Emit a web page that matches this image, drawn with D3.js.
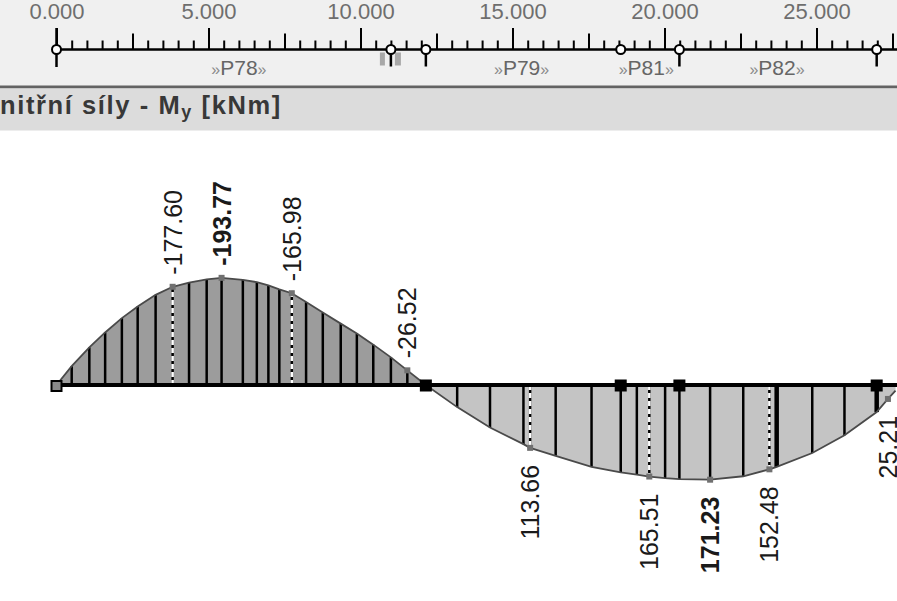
<!DOCTYPE html>
<html><head><meta charset="utf-8">
<script src="https://cdn.jsdelivr.net/npm/d3@7"></script>
<style>
html,body{margin:0;padding:0;background:#fff;overflow:hidden}
svg{display:block;font-family:"Liberation Sans",Arial,sans-serif}
</style></head><body>
<svg id="c" width="897" height="601"></svg>
<script>
// ---- data ----
const axisTicks = [0, 5, 10, 15, 20, 25];
const axisTickLabels = ["0.000", "5.000", "10.000", "15.000", "20.000", "25.000"];
const memberNames = ["P78", "P79", "P81", "P82"];
const memberLabelPos = [6.0, 15.3, 19.4, 23.7];
const axisNodes = [0, 11.0, 12.15, 18.56, 20.49, 26.98];
const diagramNodes = [12.15, 18.56, 20.49, 26.98];
const sectionPos = [0, 0.5, 1.08, 1.6, 2.15, 2.67, 3.26, 3.82, 4.36, 4.94, 5.43, 6.13, 6.59, 6.97, 7.33, 7.74, 8.21, 8.76, 9.35, 9.88, 10.42, 11.0, 11.54, 12.15,
  13.18, 14.26, 15.36, 15.58, 16.42, 17.6, 18.56, 19.09, 19.5, 20.02, 20.49, 21.5, 22.59, 23.45, 23.69, 24.86, 25.92, 26.98, 27.35, 27.6];
const momentMy = [0, -34, -68, -95, -121, -142, -163, -177.60, -185, -191, -193.77, -190, -186, -180, -173, -165.98, -150, -131, -111, -93, -73, -50, -26.52, 0,
  40, 77, 107, 113.66, 128, 148, 158, 162, 165.51, 168.5, 170.3, 171.23, 165, 152.48, 148, 123, 91, 49, 25.21, 10];
const labelPos = [3.82, 5.43, 7.74, 11.54, 15.58, 19.5, 21.5, 23.45, 27.35];
const labelText = ["-177.60", "-193.77", "-165.98", "-26.52", "113.66", "165.51", "171.23", "152.48", "25.21"];
const labelBold = [false, true, false, false, false, false, true, false, false];
const dashedPos = [3.82, 7.74, 15.58, 19.5, 23.45];
const thickPos = [23.69, 26.98];
const titleText = "Vnitřní síly - M";
const titleSub = "y";
const titleUnit = " [kNm]";

// ---- drawing ----
const W = 897, H = 601;
const svg = d3.select("#c");
const x = d3.scaleLinear().domain([0, 27.5]).range([56.5, 56.5 + 27.5 * 30.4]);
const k = 0.553;
const y = d3.scaleLinear().domain([-200, 200]).range([385 - 200 * k, 385 + 200 * k]);
const valAt = p => momentMy[sectionPos.indexOf(p)];

svg.append("rect").attr("width", W).attr("height", 86).attr("fill", "#f0f0f0");
svg.append("rect").attr("y", 85.5).attr("width", W).attr("height", 3).attr("fill", "#636363");
svg.append("rect").attr("y", 88.5).attr("width", W).attr("height", 42).attr("fill", "#dcdcdc");

// axis
const axisY = 49.5;
const gAx = svg.append("g").attr("transform", `translate(0,${axisY})`);
const all = d3.range(0, 27.51, 0.5);
const isMaj = v => Math.abs(v / 5 - Math.round(v / 5)) < 1e-6;
const isMed = v => !isMaj(v) && Math.abs(v / 2.5 - Math.round(v / 2.5)) < 1e-6;
function tickAxis(vals, size) {
  const g = gAx.append("g").call(d3.axisTop(x).tickValues(vals).tickSize(size).tickFormat(""));
  g.select(".domain").remove();
  g.selectAll("line").attr("stroke", "#000").attr("stroke-width", 2);
}
tickAxis(all.filter(v => !isMaj(v) && !isMed(v)), 9);
tickAxis(all.filter(isMed), 16);
tickAxis(all.filter(isMaj), 21.5);
const gl = gAx.append("g").call(d3.axisTop(x).tickValues(axisTicks).tickSize(0).tickPadding(31)
  .tickFormat((d, i) => axisTickLabels[i]));
gl.select(".domain").remove();
gl.selectAll("text").attr("font-size", 22).attr("fill", "#6e6e6e").attr("font-family", "'Liberation Sans',Arial,sans-serif");
gAx.append("line").attr("x1", x(0)).attr("x2", W).attr("y1", 0).attr("y2", 0).attr("stroke", "#000").attr("stroke-width", 2.5);

// node stems
gAx.append("line").attr("x1", x(0)).attr("x2", x(0)).attr("y1", -21.5).attr("y2", 17.5).attr("stroke", "#000").attr("stroke-width", 2.5);
[11.0, 12.15, 20.49, 26.98].forEach(p => {
  gAx.append("line").attr("x1", x(p)).attr("x2", x(p)).attr("y1", 0).attr("y2", 17).attr("stroke", "#000").attr("stroke-width", 2.5);
});
gAx.append("rect").attr("x", x(11.0) - 11).attr("y", 3).attr("width", 5).attr("height", 13).attr("fill", "#a8a8a8");
gAx.append("rect").attr("x", x(11.0) + 4).attr("y", 3).attr("width", 6).attr("height", 13).attr("fill", "#a8a8a8");
gAx.selectAll("circle.n").data(axisNodes).join("circle").attr("class", "n")
  .attr("cx", d => x(d)).attr("cy", 0).attr("r", 4.5).attr("fill", "#fff").attr("stroke", "#000").attr("stroke-width", 2);

// member labels
memberNames.forEach((n, i) => {
  const t = svg.append("text").attr("x", x(memberLabelPos[i])).attr("y", 75).attr("text-anchor", "middle")
    .attr("font-size", 21).attr("fill", "#666");
  t.append("tspan").attr("font-size", 16).attr("fill", "#8a8a8a").text("»");
  t.append("tspan").text(n);
  t.append("tspan").attr("font-size", 16).attr("fill", "#8a8a8a").text("»");
});

// title
const tt = svg.append("text").attr("x", -18.6).attr("y", 114).attr("font-size", 25.5).attr("font-weight", "bold")
  .attr("letter-spacing", 1.6).attr("fill", "#383838");
tt.append("tspan").text(titleText);
tt.append("tspan").attr("font-size", 18).attr("dy", 4).text(titleSub);
tt.append("tspan").attr("dy", -4).text(titleUnit);

// diagram
const pts = sectionPos.map((p, i) => ({p, v: momentMy[i]}));
const zi = sectionPos.indexOf(12.15);
const area = d3.area().x(d => x(d.p)).y0(y(0)).y1(d => y(d.v));
const line = d3.line().x(d => x(d.p)).y(d => y(d.v));
svg.append("path").attr("d", area(pts.slice(0, zi + 1))).attr("fill", "#9c9c9c");
svg.append("path").attr("d", area(pts.slice(zi))).attr("fill", "#c4c4c4");

// hatch lines
const hatch = pts.filter((d, i) => i > 0 && i !== zi && d.p < 27.3);
svg.selectAll("line.h").data(hatch).join("line").attr("class", "h")
  .attr("x1", d => x(d.p)).attr("x2", d => x(d.p)).attr("y1", y(0)).attr("y2", d => y(d.v))
  .attr("stroke", "#000").attr("stroke-width", d => thickPos.includes(d.p) ? 4.5 : 2.5);
svg.selectAll("line.dw").data(dashedPos).join("line").attr("class", "dw")
  .attr("x1", d => x(d)).attr("x2", d => x(d)).attr("y1", y(0)).attr("y2", d => y(valAt(d)))
  .attr("stroke", "#fff").attr("stroke-width", 2.5).attr("stroke-dasharray", "5,3");

svg.append("path").attr("d", line(pts)).attr("fill", "none").attr("stroke", "#4a4a4a").attr("stroke-width", 1.8);

// baseline
svg.append("line").attr("x1", x(0)).attr("x2", W).attr("y1", y(0)).attr("y2", y(0)).attr("stroke", "#000").attr("stroke-width", 4);

// label markers
svg.selectAll("rect.m").data(labelPos).join("rect").attr("class", "m")
  .attr("x", d => x(d) - 3).attr("y", d => y(valAt(d)) - 3).attr("width", 6).attr("height", 6).attr("fill", "#707070");

// nodes on diagram
svg.append("rect").attr("x", x(0) - 5).attr("y", y(0) - 4).attr("width", 10).attr("height", 10)
  .attr("fill", "#8a8a8a").attr("stroke", "#000").attr("stroke-width", 2);
svg.selectAll("rect.dn").data(diagramNodes).join("rect").attr("class", "dn")
  .attr("x", d => x(d) - 6).attr("y", y(0) - 5.5).attr("width", 12).attr("height", 12).attr("fill", "#000");

// value labels
svg.selectAll("text.v").data(labelPos).join("text").attr("class", "v")
  .attr("transform", (d, i) => {
    const v = valAt(d);
    const yy = v < 0 ? y(v) - 12 : y(v) + 17;
    return `translate(${x(d)},${yy}) rotate(-90)`;
  })
  .attr("text-anchor", d => valAt(d) < 0 ? "start" : "end")
  .attr("dy", "0.36em")
  .attr("font-size", 25)
  .attr("font-weight", (d, i) => labelBold[i] ? "bold" : "normal")
  .attr("fill", "#1a1a1a")
  .text((d, i) => labelText[i]);
</script>
</body></html>
